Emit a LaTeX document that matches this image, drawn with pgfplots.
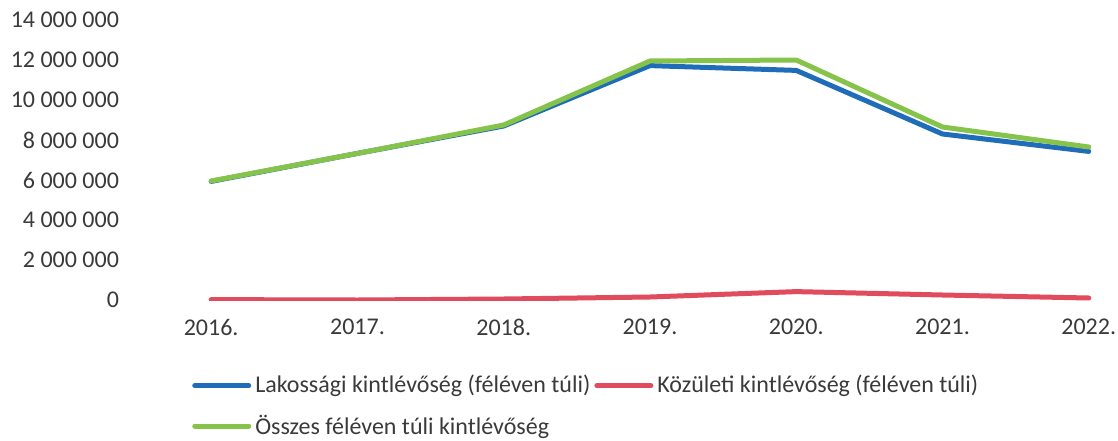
\documentclass[border=0pt]{standalone}
\usepackage{fontspec}
\setmainfont{Carlito}
\usepackage{pgfplots}
\pgfplotsset{compat=1.18}
\definecolor{cblue}{HTML}{1F6DB8}
\definecolor{cred}{HTML}{E04B5E}
\definecolor{cgreen}{HTML}{86C34A}
\definecolor{ctext}{HTML}{3A3A3A}
\begin{document}
\begin{tikzpicture}
\useasboundingbox (0,0) rectangle (559pt,220pt);
\begin{axis}[
  at={(65pt,70pt)}, anchor=south west,
  scale only axis=true,
  width=494pt, height=140pt,
  xmin=-0.555, xmax=6.2,
  ymin=0, ymax=14000000,
  axis line style={draw=none},
  tick style={draw=none},
  xtick={0,1,2,3,4,5,6},
  xticklabels={2016.,2017.,2018.,2019.,2020.,2021.,2022.},
  ytick={0,2000000,4000000,6000000,8000000,10000000,12000000,14000000},
  scaled y ticks=false,
  /pgf/number format/.cd, fixed, precision=0, 1000 sep={\ }, assume math mode=true,
  /pgfplots/.cd,
  ticklabel style={font=\fontsize{12}{14}\selectfont, text=ctext},
  yticklabel style={xshift=-2pt},
  xticklabel style={yshift=-6pt},
  legend style={at={(0.063,-0.255)}, anchor=north west, draw=none, fill=none,
    font=\fontsize{12}{14}\selectfont, text=ctext, legend columns=2, row sep=5.5pt,
    inner sep=0pt, outer sep=0pt,
    /tikz/every even column/.append style={column sep=0pt}},
  legend cell align=left,
  legend image code/.code={\draw[#1, line width=2.5pt, line cap=round] (0pt,0pt) -- (27pt,0pt);},
  every axis plot/.append style={line width=2.5pt, line join=round, line cap=round},
]
\addplot[cblue] coordinates {(0,5930000) (1,7330000) (2,8700000) (3,11720000) (4,11480000) (5,8300000) (6,7430000)};
\addlegendentry{Lakossági kintlévőség (féléven túli)}
\addplot[cred] coordinates {(0,20000) (1,0) (2,50000) (3,150000) (4,420000) (5,250000) (6,100000)};
\addlegendentry{Közületi kintlévőség (féléven túli)}
\addplot[cgreen] coordinates {(0,5950000) (1,7330000) (2,8750000) (3,11950000) (4,12000000) (5,8650000) (6,7650000)};
\addlegendentry{Összes féléven túli kintlévőség}
\end{axis}
\end{tikzpicture}
\end{document}
